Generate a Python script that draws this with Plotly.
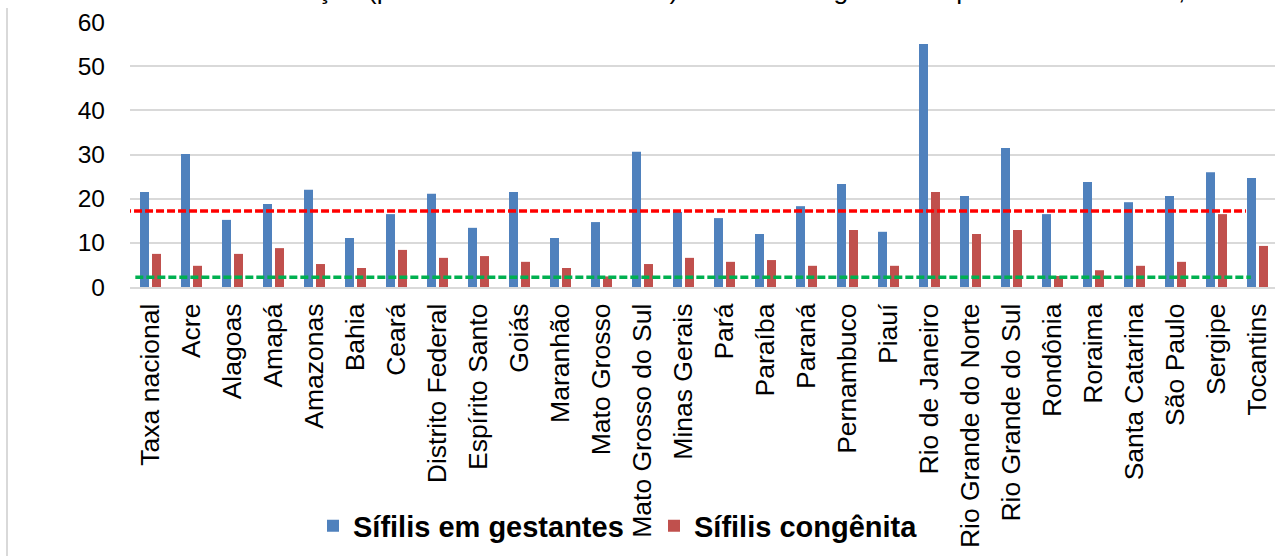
import plotly.graph_objects as go

categories = ["Taxa nacional", "Acre", "Alagoas", "Amapá", "Amazonas", "Bahia", "Ceará",
              "Distrito Federal", "Espírito Santo", "Goiás", "Maranhão", "Mato Grosso",
              "Mato Grosso do Sul", "Minas Gerais", "Pará", "Paraíba", "Paraná", "Pernambuco",
              "Piauí", "Rio de Janeiro", "Rio Grande do Norte", "Rio Grande do Sul", "Rondônia",
              "Roraima", "Santa Catarina", "São Paulo", "Sergipe", "Tocantins"]
sifilis_gestantes = [21.5, 30.1, 15.2, 18.8, 22.0, 11.1, 16.5, 21.1, 13.4, 21.5, 11.1, 14.7,
                     30.6, 17.0, 15.6, 12.0, 18.3, 23.3, 12.5, 55.0, 20.6, 31.5, 16.5, 23.8,
                     19.2, 20.6, 26.0, 24.7]
sifilis_congenita = [7.5, 4.8, 7.5, 8.8, 5.2, 4.3, 8.4, 6.6, 7.0, 5.7, 4.3, 2.4, 5.2, 6.6,
                     5.7, 6.1, 4.8, 12.9, 4.8, 21.5, 12.0, 12.9, 2.5, 3.8, 4.8, 5.7, 16.5, 9.3]
ref_red = 17.2
ref_green = 2.2
y_ticks = [0, 10, 20, 30, 40, 50, 60]
title_text = "Taxa de detecção (por 1.000 nascidos vivos) de sífilis em gestantes por estado e Brasil, 2021"

FONT = "Arial, Liberation Sans, sans-serif"
W, H = 1275, 556
ML, MT, MB = 130, 22, 269
plot_h = H - MT - MB
plot_w = W - ML

fig = go.Figure()
fig.add_trace(go.Bar(x=categories, y=sifilis_gestantes, name="Sífilis em gestantes",
                     marker=dict(color="#4F81BD", line=dict(width=0))))
fig.add_trace(go.Bar(x=categories, y=sifilis_congenita, name="Sífilis congênita",
                     marker=dict(color="#C0504D", line=dict(width=0))))

# reference dashed lines
fig.add_shape(type="line", xref="x", yref="y", x0=-0.67, x1=26.72, y0=ref_red, y1=ref_red,
              line=dict(color="#FF0000", width=3.5, dash="8px,3px"), layer="above")
fig.add_shape(type="line", xref="x", yref="y", x0=-0.37, x1=26.84, y0=ref_green, y1=ref_green,
              line=dict(color="#00B050", width=3.5, dash="8px,3px"), layer="above")


def px_to_paper_x(px):
    return (px - ML) / plot_w


def px_to_paper_y(py):
    return (H - MB - py) / plot_h


# chart-area left border
fig.add_shape(type="line", xref="paper", yref="paper",
              x0=px_to_paper_x(7), x1=px_to_paper_x(7),
              y0=px_to_paper_y(H + 2), y1=px_to_paper_y(8),
              line=dict(color="#D9D9D9", width=2))

# title, clipped by the top edge as in the reference
fig.add_annotation(text=title_text, xref="paper", yref="paper",
                   x=px_to_paper_x(150), y=px_to_paper_y(7), xanchor="left", yanchor="bottom",
                   showarrow=False, font=dict(family=FONT, size=26.6, color="#000000"))

x_range_end = 27.5 - 3 / 41.0
fig.update_layout(
    width=W, height=H, autosize=False,
    margin=dict(l=ML, r=0, t=MT, b=MB, pad=0),
    paper_bgcolor="white", plot_bgcolor="white",
    barmode="group", bargap=0.415, bargroupgap=0.25,
    font=dict(family=FONT, color="#000000"),
    showlegend=True,
    legend=dict(orientation="h", x=px_to_paper_x(313), xanchor="left",
                y=px_to_paper_y(526), yanchor="middle",
                bgcolor="rgba(0,0,0,0)", borderwidth=0,
                font=dict(family=FONT, size=29, color="#000000", weight="bold"),
                entrywidth=296, entrywidthmode="pixels", itemsizing="constant",
                traceorder="normal"),
    xaxis=dict(type="category", range=[-0.5, x_range_end], showgrid=False,
               showline=True, linecolor="#D9D9D9", linewidth=2,
               ticks="", tickangle=-90, tickfont=dict(family=FONT, size=26.5, color="#000000"),
               ticklabelstandoff=4, fixedrange=True),
    yaxis=dict(range=[0, 60], tickvals=y_ticks, showgrid=True, gridcolor="#D9D9D9",
               gridwidth=1.5, zeroline=False, showline=False, ticks="",
               tickfont=dict(family=FONT, size=24.5, color="#000000"),
               ticklabelstandoff=24, fixedrange=True),
)

fig.write_html("out.html", config={"displayModeBar": False})
